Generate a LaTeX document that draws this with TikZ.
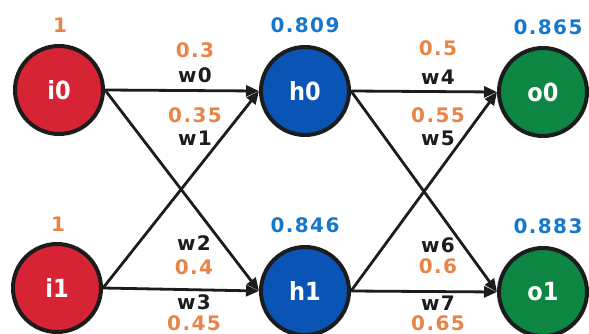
\documentclass[tikz,border=0pt]{standalone}
\usepackage{fontspec}
\usetikzlibrary{arrows.meta}
\setmainfont{DejaVu Sans}
\newfontfamily\neuronfont{DejaVu Sans Condensed}
\newfontfamily\labelfont{DejaVu Sans}[LetterSpace=7]

\definecolor{inred}{RGB}{214,36,52}
\definecolor{hidblue}{RGB}{10,84,182}
\definecolor{outgreen}{RGB}{12,134,66}
\definecolor{rim}{RGB}{28,28,28}
\definecolor{wtorange}{RGB}{232,132,72}
\definecolor{actblue}{RGB}{22,120,204}

\begin{document}
\begin{tikzpicture}[x=1pt,y=-1pt,
  neuron/.style={circle, draw=rim, line width=4pt, minimum size=88pt,
    inner sep=0pt, text=white,
    font=\neuronfont\bfseries\fontsize{25}{29}\selectfont},
  inneuron/.style={neuron, fill=inred},
  hidneuron/.style={neuron, fill=hidblue},
  outneuron/.style={neuron, fill=outgreen},
  weight/.style={text=wtorange, inner sep=0pt,
    font=\labelfont\bfseries\fontsize{20}{24}\selectfont},
  wname/.style={text=rim, inner sep=0pt,
    font=\labelfont\bfseries\fontsize{20}{24}\selectfont},
  act/.style={text=actblue, inner sep=0pt,
    font=\labelfont\bfseries\fontsize{20}{24}\selectfont},
  link/.style={draw=rim, line width=2.8pt,
    -{Triangle[length=13pt,width=11pt]}}
]
\useasboundingbox (0,0) rectangle (589,334);

% neurons
\node[inneuron]  (i0) at (59,90)   {i0};
\node[inneuron]  (i1) at (57,288)  {i1};
\node[hidneuron] (h0) at (305,91)  {h0};
\node[hidneuron] (h1) at (305,291) {h1};
\node[outneuron] (o0) at (543,92)  {o0};
\node[outneuron] (o1) at (543,292) {o1};

% activations
\node[weight] (vi0) at (60,25)  {1};
\node[weight] (vi1) at (58,224) {1};
\node[act] (vh0) at (305,25)  {0.809};
\node[act] (vh1) at (305,225) {0.846};
\node[act] (vo0) at (548,27)  {0.865};
\node[act] (vo1) at (548,226) {0.883};

% connections
\draw[link] (i0.east) -- (h0.west);
\draw[link] (i0.east) -- (h1.west);
\draw[link] (i1.east) -- (h0.west);
\draw[link] (i1.east) -- (h1.west);
\draw[link] (h0.east) -- (o0.west);
\draw[link] (h0.east) -- (o1.west);
\draw[link] (h1.east) -- (o0.west);
\draw[link] (h1.east) -- (o1.west);

% weights, first layer
\node[weight] (v0) at (195,50)  {0.3};
\node[wname]  (n0) at (195,75)  {w0};
\node[weight] (v1) at (195,115) {0.35};
\node[wname]  (n1) at (195,138) {w1};
\node[wname]  (n2) at (194,243) {w2};
\node[weight] (v2) at (194,267) {0.4};
\node[wname]  (n3) at (194,302) {w3};
\node[weight] (v3) at (194,323) {0.45};

% weights, second layer
\node[weight] (v4) at (438,48)  {0.5};
\node[wname]  (n4) at (438,77)  {w4};
\node[weight] (v5) at (438,115) {0.55};
\node[wname]  (n5) at (438,138) {w5};
\node[wname]  (n6) at (438,245) {w6};
\node[weight] (v6) at (438,266) {0.6};
\node[wname]  (n7) at (438,303) {w7};
\node[weight] (v7) at (438,323) {0.65};
\end{tikzpicture}
\end{document}
